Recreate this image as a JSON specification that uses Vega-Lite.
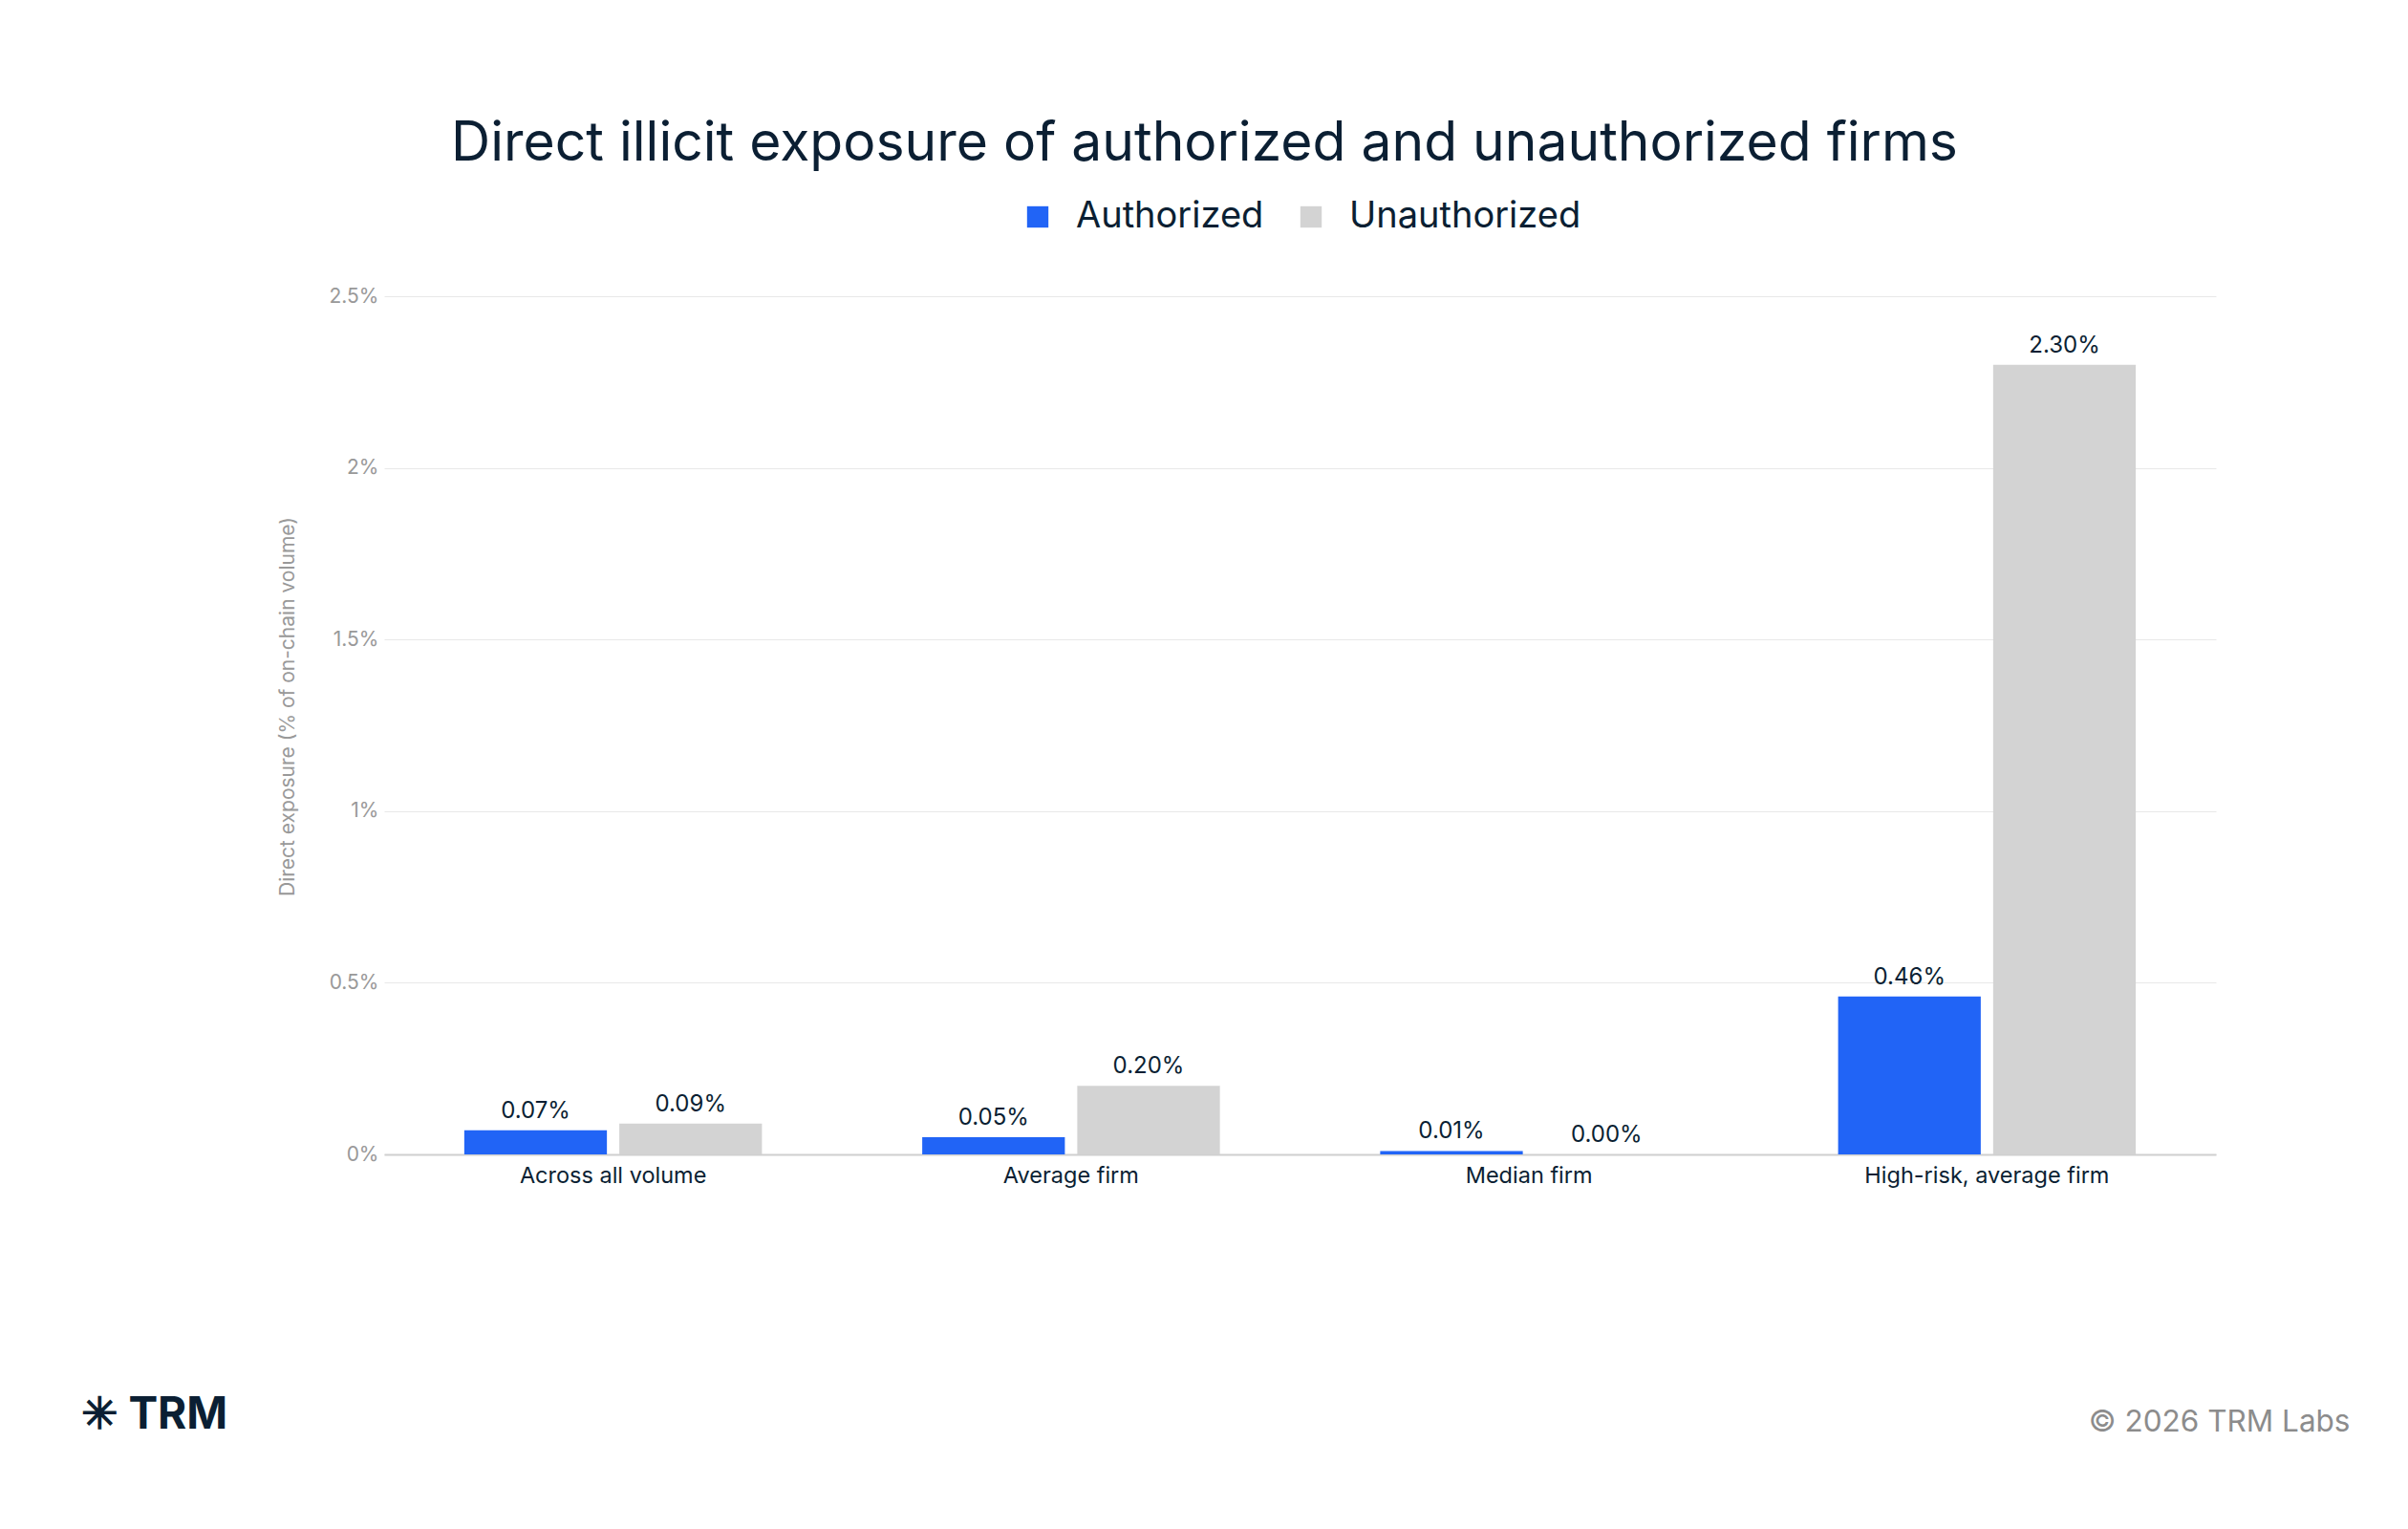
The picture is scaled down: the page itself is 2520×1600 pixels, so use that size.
{
  "$schema": "https://vega.github.io/schema/vega-lite/v6.json",
  "width": 1917,
  "height": 898,
  "autosize": {"type": "none"},
  "padding": {"left": 402, "top": 310, "right": 201, "bottom": 392},
  "background": "white",
  "title": {
    "text": "Direct illicit exposure of authorized and unauthorized firms",
    "anchor": "middle",
    "frame": "group",
    "dx": -100,
    "baseline": "alphabetic",
    "offset": -17,
    "fontSize": 57,
    "fontWeight": 400,
    "font": "Inter",
    "color": "#0b1f33"
  },
  "data": {
    "values": [
      {"category": "Across all volume", "firm": "Authorized", "value": 0.07},
      {"category": "Across all volume", "firm": "Unauthorized", "value": 0.09},
      {"category": "Average firm", "firm": "Authorized", "value": 0.05},
      {"category": "Average firm", "firm": "Unauthorized", "value": 0.20},
      {"category": "Median firm", "firm": "Authorized", "value": 0.01},
      {"category": "Median firm", "firm": "Unauthorized", "value": 0.00},
      {"category": "High-risk, average firm", "firm": "Authorized", "value": 0.46},
      {"category": "High-risk, average firm", "firm": "Unauthorized", "value": 2.30}
    ]
  },
  "transform": [
    {"calculate": "format(datum.value, '.2f') + '%'", "as": "label"}
  ],
  "encoding": {
    "x": {
      "field": "category",
      "type": "nominal",
      "sort": null,
      "scale": {"paddingInner": 0.35, "paddingOuter": 0.175}
    },
    "xOffset": {
      "field": "firm",
      "type": "nominal",
      "scale": {"paddingInner": 0.08}
    },
    "y": {
      "field": "value",
      "type": "quantitative",
      "scale": {"domain": [0, 2.5], "nice": false},
      "axis": {
        "title": "Direct exposure (% of on-chain volume)",
        "values": [0, 0.5, 1, 1.5, 2, 2.5],
        "labelExpr": "datum.value + '%'",
        "labelFontSize": 21,
        "labelColor": "#999999",
        "labelPadding": 6,
        "ticks": false,
        "domain": false,
        "gridColor": "#e8e8e8",
        "titleFontSize": 21,
        "titleFontWeight": "normal",
        "titleColor": "#999999",
        "titlePadding": 33,
        "titleY": 429
      }
    }
  },
  "layer": [
    {
      "mark": {"type": "bar"},
      "encoding": {
        "x": {
          "field": "category",
          "type": "nominal",
          "sort": null,
          "axis": {
            "orient": "bottom",
            "labelAngle": 0,
            "labelFontSize": 23.5,
            "labelLimit": 0,
            "labelColor": "#0b1f33",
            "labelPadding": 10,
            "ticks": false,
            "domainColor": "#cfcfcf",
            "domainWidth": 2,
            "title": "© 2026 TRM Labs",
            "titleX": 2057,
            "titleY": 280,
            "titleAlign": "right",
            "titleBaseline": "middle",
            "titleFontSize": 31.5,
            "titleFontWeight": "normal",
            "titleColor": "#8c8c8c"
          }
        },
        "color": {
          "field": "firm",
          "type": "nominal",
          "scale": {
            "domain": ["Authorized", "Unauthorized"],
            "range": ["#2164f6", "#d3d3d3"]
          },
          "legend": {
            "title": null,
            "orient": "none",
            "direction": "horizontal",
            "legendX": 665,
            "legendY": -102,
            "symbolType": "square",
            "symbolSize": 500,
            "symbolStrokeWidth": 0,
            "labelFontSize": 38,
            "labelLimit": 0,
            "labelColor": "#0b1f33",
            "labelOffset": 21,
            "columnPadding": 30
          }
        }
      }
    },
    {
      "mark": {
        "type": "text",
        "baseline": "bottom",
        "dy": -8,
        "fontSize": 24,
        "color": "#0b1f33"
      },
      "encoding": {
        "x": {
          "field": "category",
          "type": "nominal",
          "sort": null,
          "axis": {
            "orient": "bottom",
            "labels": false,
            "ticks": false,
            "domain": false,
            "grid": false,
            "title": "✳ TRM",
            "titleX": -318,
            "titleY": 272,
            "titleAlign": "left",
            "titleBaseline": "middle",
            "titleFontSize": 46,
            "titleFontWeight": "bold",
            "titleColor": "#0b1f33"
          }
        },
        "text": {"field": "label", "type": "nominal"},
        "tooltip": [
          {"field": "category", "type": "nominal"},
          {"field": "firm", "type": "nominal"},
          {"field": "value", "type": "quantitative"}
        ]
      }
    }
  ],
  "resolve": {"axis": {"x": "independent"}},
  "config": {
    "font": "Inter",
    "view": {"stroke": null}
  }
}
